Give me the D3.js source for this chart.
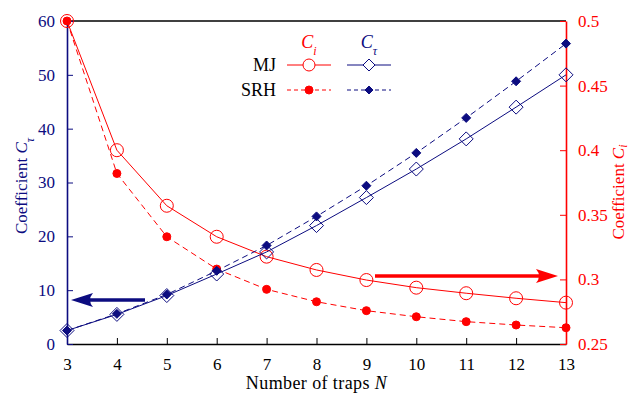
<!DOCTYPE html>
<html>
<head>
<meta charset="utf-8">
<script src="https://cdn.jsdelivr.net/npm/d3@7"></script>
<style>
  body { margin: 0; background: #fff; }
  svg text { font-family: "Liberation Serif", "DejaVu Serif", serif; }
</style>
</head>
<body>
<div id="chart"></div>
<script>
// traps N on the x axis
var traps = [3, 4, 5, 6, 7, 8, 9, 10, 11, 12, 13];

// C_tau (left axis)
var tauMJ  = [2.5, 5.5, 9.0, 13.0, 17.1, 22.0, 27.2, 32.5, 38.1, 44.0, 50.0];
var tauSRH = [2.5, 5.6, 9.2, 13.6, 18.3, 23.7, 29.4, 35.5, 42.0, 48.8, 55.8];

// C_i (right axis)
var ciMJ  = [0.5, 0.4, 0.357, 0.333, 0.3176, 0.3073, 0.2995, 0.2936, 0.2893, 0.2854, 0.282];
var ciSRH = [0.5, 0.382, 0.333, 0.308, 0.2923, 0.2827, 0.2758, 0.2711, 0.2673, 0.2647, 0.2626];

var leftTicks = [0, 10, 20, 30, 40, 50, 60];
var rightTicks = [0.25, 0.3, 0.35, 0.4, 0.45, 0.5];

var navy = "#0c0c80";
var red = "#ff0000";
var serif = "'Liberation Serif', 'DejaVu Serif', serif";

var svgWidth = 634;
var svgHeight = 393;
var margin = { top: 21, right: 68, bottom: 49, left: 67 };
var plotWidth = svgWidth - margin.left - margin.right;
var plotHeight = svgHeight - margin.top - margin.bottom;

var svg = d3.select("#chart")
    .append("svg")
    .attr("width", svgWidth)
    .attr("height", svgHeight)
    .attr("font-family", serif);

var g = svg.append("g")
    .attr("transform", `translate(${margin.left}, ${margin.top})`);

var x = d3.scaleLinear().domain([3, 13]).range([0, plotWidth]);
var yL = d3.scaleLinear().domain([0, 60]).range([plotHeight, 0]);
var yR = d3.scaleLinear().domain([0.25, 0.5]).range([plotHeight, 0]);

// axes
var xAxis = g.append("g")
    .attr("transform", `translate(0, ${plotHeight})`)
    .call(d3.axisBottom(x).tickValues(traps).tickSize(-6).tickSizeOuter(0).tickPadding(14).tickFormat(d3.format("d")));
xAxis.attr("font-family", serif);
xAxis.select(".domain").attr("stroke", "#000").attr("stroke-width", 1.6);
xAxis.selectAll("line").attr("stroke", "#000");
xAxis.selectAll("text").attr("fill", "#000").style("font-size", "17px");

// top frame line
g.append("line")
    .attr("x1", 0).attr("x2", plotWidth)
    .attr("y1", 0).attr("y2", 0)
    .attr("stroke", "#000").attr("stroke-width", 1.6);

var leftAxis = g.append("g")
    .call(d3.axisLeft(yL).tickValues(leftTicks).tickSize(-6).tickSizeOuter(0).tickPadding(12));
leftAxis.attr("font-family", serif);
leftAxis.select(".domain").attr("stroke", navy).attr("stroke-width", 1.6);
leftAxis.selectAll("line").attr("stroke", navy);
leftAxis.selectAll("text").attr("fill", navy).style("font-size", "17px");

var rightAxis = g.append("g")
    .attr("transform", `translate(${plotWidth}, 0)`)
    .call(d3.axisRight(yR).tickValues(rightTicks).tickSize(-6).tickSizeOuter(0).tickPadding(12).tickFormat(d => String(d)));
rightAxis.attr("font-family", serif);
rightAxis.select(".domain").attr("stroke", red).attr("stroke-width", 1.6);
rightAxis.selectAll("line").attr("stroke", red);
rightAxis.selectAll("text").attr("fill", red).style("font-size", "17px");

// axis titles
var xt = svg.append("text")
    .attr("x", margin.left + plotWidth / 2)
    .attr("y", 389)
    .attr("text-anchor", "middle")
    .style("font-size", "18px")
    .style("letter-spacing", "0.4px")
    .attr("fill", "#000");
xt.append("tspan").text("Number of traps ");
xt.append("tspan").attr("font-style", "italic").text("N");

var lt = svg.append("text")
    .attr("transform", "translate(27, 186) rotate(-90)")
    .attr("text-anchor", "middle")
    .style("font-size", "17px")
    .attr("fill", navy);
lt.append("tspan").text("Coefficient ");
lt.append("tspan").attr("font-style", "italic").text("C");
lt.append("tspan").attr("font-style", "italic").attr("baseline-shift", "sub").style("font-size", "12px").text("τ");

var rt = svg.append("text")
    .attr("transform", "translate(624, 192) rotate(-90)")
    .attr("text-anchor", "middle")
    .style("font-size", "17px")
    .attr("fill", red);
rt.append("tspan").text("Coefficient ");
rt.append("tspan").attr("font-style", "italic").text("C");
rt.append("tspan").attr("font-style", "italic").attr("dy", 3).style("font-size", "12px").text("i");

// series lines and markers
function drawSeries(vals, yScale, color, dashed, marker) {
    var pts = traps.map((t, i) => [t, vals[i]]);
    var line = d3.line().x(d => x(d[0])).y(d => yScale(d[1]));
    g.append("path")
        .datum(pts)
        .attr("fill", "none")
        .attr("stroke", color)
        .attr("stroke-width", 1)
        .attr("stroke-dasharray", dashed ? "6,4" : null)
        .attr("d", line);
    g.selectAll(null)
        .data(pts)
        .enter()
        .append("path")
        .attr("transform", d => `translate(${x(d[0])}, ${yScale(d[1])})`)
        .attr("d", markerPath(marker))
        .attr("fill", marker.fill ? color : "#fff")
        .attr("fill-opacity", marker.fill ? 1 : 0)
        .attr("stroke", color)
        .attr("stroke-width", 1);
}

function markerPath(m) {
    if (m.shape == "circle") {
        return d3.symbol().type(d3.symbolCircle).size(Math.PI * m.r * m.r)();
    }
    return `M0,${-m.r}L${m.r},0L0,${m.r}L${-m.r},0Z`;
}

var openCircle = { shape: "circle", r: 6.5, fill: false };
var dot = { shape: "circle", r: 4, fill: true };
var openDiamond = { shape: "diamond", r: 7, fill: false };
var smallDiamond = { shape: "diamond", r: 4.5, fill: true };

drawSeries(ciSRH, yR, red, true, dot);
drawSeries(ciMJ, yR, red, false, openCircle);
drawSeries(tauSRH, yL, navy, true, smallDiamond);
drawSeries(tauMJ, yL, navy, false, openDiamond);

// arrows pointing to each axis
function arrow(x1, x2, y, color) {
    var dir = x2 > x1 ? 1 : -1;
    var L = 22, W = 7;
    var base = x2 - dir * L;
    svg.append("line")
        .attr("x1", x1).attr("x2", base + dir * 4)
        .attr("y1", y).attr("y2", y)
        .attr("stroke", color).attr("stroke-width", 3.5);
    svg.append("path")
        .attr("d", `M${x2},${y}L${base},${y - W}Q${base + dir * 6},${y} ${base},${y + W}Z`)
        .attr("fill", color);
}
arrow(145, 71, 300, navy);
arrow(375, 558, 276, red);

// legend
var legend = svg.append("g");
var colX = [309, 369];
var rowY = [65, 90];
var h1 = legend.append("text").attr("x", colX[0]).attr("y", 48).attr("text-anchor", "middle")
    .attr("fill", red).style("font-size", "18px");
h1.append("tspan").attr("font-style", "italic").text("C");
h1.append("tspan").attr("font-style", "italic").attr("baseline-shift", "sub").style("font-size", "12px").text("i");
var h2 = legend.append("text").attr("x", colX[1]).attr("y", 48).attr("text-anchor", "middle")
    .attr("fill", navy).style("font-size", "18px");
h2.append("tspan").attr("font-style", "italic").text("C");
h2.append("tspan").attr("font-style", "italic").attr("baseline-shift", "sub").style("font-size", "12px").text("τ");

var rows = ["MJ", "SRH"];
rows.forEach(function(name, r) {
    legend.append("text")
        .attr("x", 276).attr("y", rowY[r] + 6)
        .attr("text-anchor", "end")
        .style("font-size", "18px")
        .text(name);
    [[red, r == 0 ? openCircle : dot], [navy, r == 0 ? openDiamond : smallDiamond]].forEach(function(s, c) {
        legend.append("line")
            .attr("x1", colX[c] - 22).attr("x2", colX[c] + 22)
            .attr("y1", rowY[r]).attr("y2", rowY[r])
            .attr("stroke", s[0]).attr("stroke-width", 1)
            .attr("stroke-dasharray", r == 1 ? "4,3" : null);
        var m = Object.assign({}, s[1]);
        if (m.shape == "circle" && !m.fill) m.r = 6;
        if (m.shape == "diamond" && !m.fill) m.r = 6;
        if (m.shape == "diamond" && m.fill) m.r = 4;
        legend.append("path")
            .attr("transform", `translate(${colX[c]}, ${rowY[r]})`)
            .attr("d", markerPath(m))
            .attr("fill", m.fill ? s[0] : "#fff")
            .attr("stroke", s[0]);
    });
});
</script>
</body>
</html>
